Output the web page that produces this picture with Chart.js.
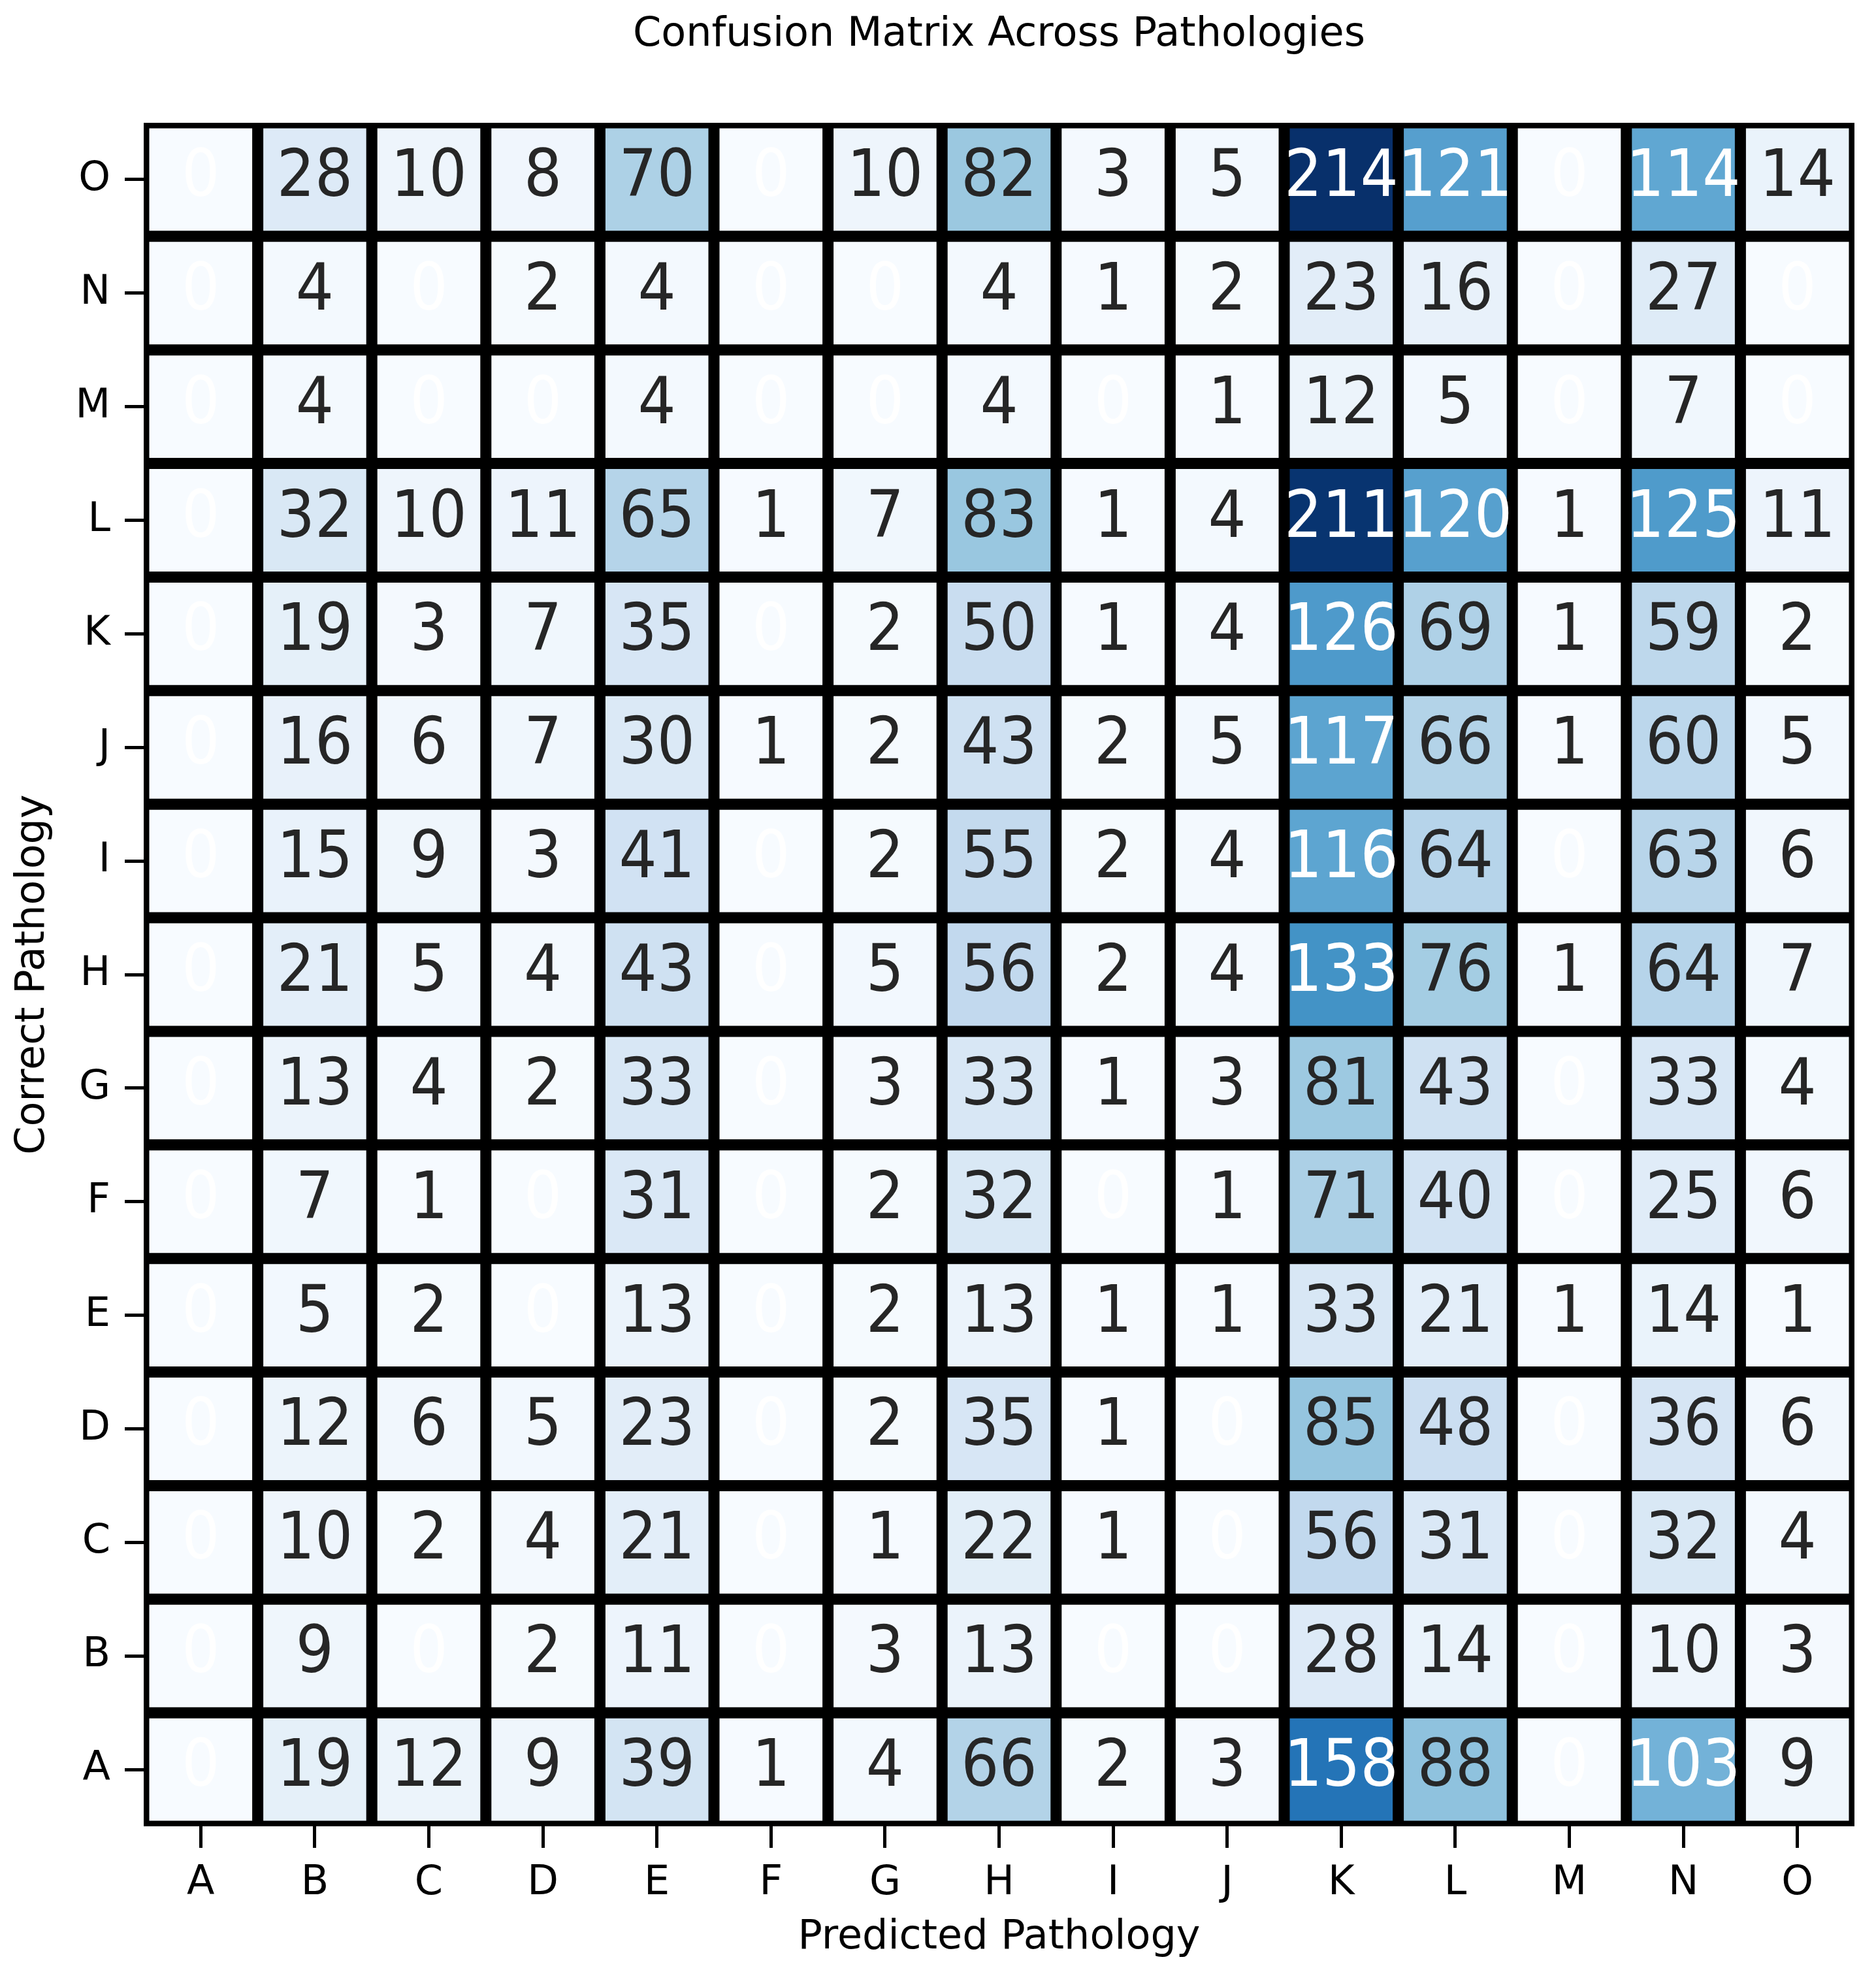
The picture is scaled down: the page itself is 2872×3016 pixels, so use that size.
<!DOCTYPE html>
<html>
<head>
<meta charset="utf-8">
<title>Confusion Matrix Across Pathologies</title>
<script src="https://cdn.jsdelivr.net/npm/chart.js@4.4.1/dist/chart.umd.min.js"></script>
<style>
    html, body { margin: 0; padding: 0; background: #fff; }
    #wrap { width: 2872px; height: 3016px; position: relative; }
</style>
</head>
<body>
<div id="wrap"><canvas id="cm"></canvas></div>
<script>
// Labels (rows go from A at the bottom to O at the top)
const predictedLabels = ['A', 'B', 'C', 'D', 'E', 'F', 'G', 'H', 'I', 'J', 'K', 'L', 'M', 'N', 'O'];
const correctLabels = ['A', 'B', 'C', 'D', 'E', 'F', 'G', 'H', 'I', 'J', 'K', 'L', 'M', 'N', 'O'];

// Counts, one array per correct pathology, columns = predicted A..O
const rowA = [0, 19, 12, 9, 39, 1, 4, 66, 2, 3, 158, 88, 0, 103, 9];
const rowB = [0, 9, 0, 2, 11, 0, 3, 13, 0, 0, 28, 14, 0, 10, 3];
const rowC = [0, 10, 2, 4, 21, 0, 1, 22, 1, 0, 56, 31, 0, 32, 4];
const rowD = [0, 12, 6, 5, 23, 0, 2, 35, 1, 0, 85, 48, 0, 36, 6];
const rowE = [0, 5, 2, 0, 13, 0, 2, 13, 1, 1, 33, 21, 1, 14, 1];
const rowF = [0, 7, 1, 0, 31, 0, 2, 32, 0, 1, 71, 40, 0, 25, 6];
const rowG = [0, 13, 4, 2, 33, 0, 3, 33, 1, 3, 81, 43, 0, 33, 4];
const rowH = [0, 21, 5, 4, 43, 0, 5, 56, 2, 4, 133, 76, 1, 64, 7];
const rowI = [0, 15, 9, 3, 41, 0, 2, 55, 2, 4, 116, 64, 0, 63, 6];
const rowJ = [0, 16, 6, 7, 30, 1, 2, 43, 2, 5, 117, 66, 1, 60, 5];
const rowK = [0, 19, 3, 7, 35, 0, 2, 50, 1, 4, 126, 69, 1, 59, 2];
const rowL = [0, 32, 10, 11, 65, 1, 7, 83, 1, 4, 211, 120, 1, 125, 11];
const rowM = [0, 4, 0, 0, 4, 0, 0, 4, 0, 1, 12, 5, 0, 7, 0];
const rowN = [0, 4, 0, 2, 4, 0, 0, 4, 1, 2, 23, 16, 0, 27, 0];
const rowO = [0, 28, 10, 8, 70, 0, 10, 82, 3, 5, 214, 121, 0, 114, 14];

const matrix = [rowA, rowB, rowC, rowD, rowE, rowF, rowG, rowH, rowI, rowJ, rowK, rowL, rowM, rowN, rowO];
const chartTitle = 'Confusion Matrix Across Pathologies';

// matplotlib "Blues" colormap stops
const bluesStops = [
    [247, 251, 255], [222, 235, 247], [198, 219, 239], [158, 202, 225], [107, 174, 214],
    [66, 146, 198], [33, 113, 181], [8, 81, 156], [8, 48, 107]
];

function blues(t) {
    t = Math.max(0, Math.min(1, t));
    const pos = t * (bluesStops.length - 1);
    const i = Math.min(Math.floor(pos), bluesStops.length - 2);
    const f = pos - i;
    return bluesStops[i].map((c, k) => Math.round(c + (bluesStops[i + 1][k] - c) * f));
}

function luminance(rgb) {
    const lin = rgb.map(c => {
        c = c / 255;
        return c <= 0.03928 ? c / 12.92 : Math.pow((c + 0.055) / 1.055, 2.4);
    });
    return 0.2126 * lin[0] + 0.7152 * lin[1] + 0.0722 * lin[2];
}

const vmax = Math.max(...matrix.flat());
const FONT = 'DejaVu Sans';

const datasets = matrix.map((row, r) => ({
    label: correctLabels[r],
    data: predictedLabels.map(() => [r, r + 1]),
    counts: row,
    backgroundColor: row.map(v => {
        const c = blues(v / vmax);
        return `rgb(${c[0]}, ${c[1]}, ${c[2]})`;
    }),
    borderColor: '#000',
    borderWidth: 8.5,
    borderSkipped: false,
    inflateAmount: 0,
    grouped: false,
    categoryPercentage: 1,
    barPercentage: 1
}));

// black under the cells so no light seams show between neighbouring bars
const gridBackdrop = {
    id: 'gridBackdrop',
    beforeDatasetsDraw(chart) {
        const a = chart.chartArea;
        chart.ctx.save();
        chart.ctx.fillStyle = '#000';
        chart.ctx.fillRect(a.left, a.top, a.right - a.left, a.bottom - a.top);
        chart.ctx.restore();
    }
};

// Numbers in the cells
const cellText = {
    id: 'cellText',
    afterDatasetsDraw(chart) {
        const ctx = chart.ctx;
        const size = 100;
        ctx.save();
        ctx.font = `${size}px "${FONT}"`;
        ctx.textAlign = 'center';
        ctx.textBaseline = 'alphabetic';
        chart.data.datasets.forEach((ds, di) => {
            const meta = chart.getDatasetMeta(di);
            meta.data.forEach((bar, i) => {
                const v = ds.counts[i];
                const p = bar.getProps(['x', 'y', 'base'], true);
                const cy = (p.y + p.base) / 2;
                const lum = luminance(blues(v / vmax));
                ctx.fillStyle = (v === 0 || lum <= 0.408) ? '#ffffff' : '#262626';
                ctx.save();
                ctx.translate(p.x, cy + 0.25 * size);
                ctx.scale(0.915, 1);
                ctx.fillText(String(v), 0, 0);
                ctx.restore();
            });
        });
        ctx.restore();
    }
};

// Title centred over the plot area
const plotTitle = {
    id: 'plotTitle',
    afterDraw(chart) {
        const ctx = chart.ctx;
        const area = chart.chartArea;
        ctx.save();
        ctx.font = `62px "${FONT}"`;
        ctx.fillStyle = '#000';
        ctx.textAlign = 'center';
        ctx.textBaseline = 'alphabetic';
        ctx.fillText(chartTitle, (area.left + area.right) / 2, 70);
        ctx.restore();
    }
};

new Chart(document.getElementById('cm'), {
    type: 'bar',
    data: { labels: predictedLabels, datasets: datasets },
    plugins: [gridBackdrop, cellText, plotTitle],
    options: {
        responsive: true,
        maintainAspectRatio: false,
        animation: false,
        events: [],
        layout: { padding: { top: 188, right: 33, bottom: 0, left: 0 } },
        plugins: {
            legend: { display: false },
            tooltip: { enabled: false },
            title: { display: false }
        },
        scales: {
            x: {
                type: 'category',
                offset: true,
                border: { display: false },
                grid: {
                    offset: false,
                    drawOnChartArea: false,
                    drawTicks: true,
                    tickLength: 33,
                    tickWidth: 5,
                    tickColor: '#000'
                },
                ticks: {
                    autoSkip: false,
                    maxRotation: 0,
                    padding: 18,
                    color: '#000',
                    font: { family: FONT, size: 62 }
                },
                title: {
                    display: true,
                    text: 'Predicted Pathology',
                    color: '#000',
                    font: { family: FONT, size: 62 },
                    padding: { top: 0, bottom: 12 }
                },
                afterFit(scale) { scale.height = 220; }
            },
            y: {
                type: 'linear',
                min: 0,
                max: correctLabels.length,
                border: { display: false },
                grid: {
                    drawOnChartArea: false,
                    drawTicks: true,
                    tickLength: 29,
                    tickWidth: 5,
                    tickColor: '#000'
                },
                afterBuildTicks(axis) {
                    axis.ticks = correctLabels.map((_, i) => ({ value: i + 0.5 }));
                },
                ticks: {
                    autoSkip: false,
                    padding: 22,
                    color: '#000',
                    font: { family: FONT, size: 62 },
                    callback: (value) => correctLabels[Math.round(value - 0.5)]
                },
                title: {
                    display: true,
                    text: 'Correct Pathology',
                    color: '#000',
                    font: { family: FONT, size: 62 },
                    padding: { top: 14, bottom: 0 }
                },
                afterFit(scale) { scale.width = 220; }
            }
        }
    }
});
</script>
</body>
</html>
